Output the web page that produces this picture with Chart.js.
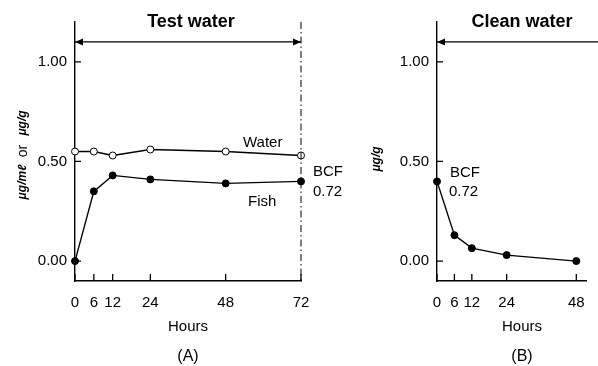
<!DOCTYPE html>
<html>
<head>
<meta charset="utf-8">
<script src="https://cdn.jsdelivr.net/npm/chart.js@4.4.0/dist/chart.umd.min.js"></script>
<style>
  html, body { margin: 0; padding: 0; background: #fff; overflow: hidden; }
  .wrap { position: absolute; top: 0; height: 366px; }
</style>
</head>
<body>
<div class="wrap" style="left:0;width:360px"><canvas id="chartA"></canvas></div>
<div class="wrap" style="left:360px;width:238px"><canvas id="chartB"></canvas></div>
<script>
// Panel A: uptake in test water
const hoursA = [0, 6, 12, 24, 48, 72];
const waterA = [0.55, 0.55, 0.53, 0.56, 0.55, 0.53];
const fishA = [0.00, 0.35, 0.43, 0.41, 0.39, 0.40];

// Panel B: depuration in clean water
const hoursB = [0, 6, 12, 24, 48];
const fishB = [0.40, 0.13, 0.065, 0.03, 0.00];

const yTicks = [0, 0.5, 1.0];
const xTicksA = [0, 6, 12, 24, 48, 72];
const xTicksB = [0, 6, 12, 24, 48];

const FONT = "'Liberation Sans', Arial, sans-serif";
Chart.defaults.font.family = FONT;
Chart.defaults.color = "#000";

const toXY = (xs, ys) => xs.map((x, i) => ({ x: x, y: ys[i] }));

const lineStyle = (fill) => ({
  borderColor: "#000",
  borderWidth: 1.4,
  pointRadius: 3.5,
  pointBorderWidth: 1,
  pointBorderColor: "#000",
  pointBackgroundColor: fill,
  clip: false,
  tension: 0,
});

// draws inward tick marks, arrows, labels
const decorPlugin = {
  id: "decor",
  afterDraw(chart, args, opts) {
    const ctx = chart.ctx;
    const x = chart.scales.x, y = chart.scales.y;
    const a = chart.chartArea;
    ctx.save();
    ctx.strokeStyle = "#000";
    ctx.fillStyle = "#000";
    ctx.lineWidth = 1.3;
    // inward ticks
    ctx.beginPath();
    opts.yTicks.forEach((v) => {
      const py = y.getPixelForValue(v);
      ctx.moveTo(a.left, py); ctx.lineTo(a.left + 6, py);
    });
    opts.xTicks.forEach((v) => {
      const px = x.getPixelForValue(v);
      ctx.moveTo(px, a.bottom); ctx.lineTo(px, a.bottom - 7);
    });
    ctx.stroke();

    // arrow line
    const ay = y.getPixelForValue(1.1);
    const ax1 = a.left, ax2 = opts.rightDash ? a.right : chart.width + 5;
    ctx.beginPath();
    ctx.moveTo(ax1, ay); ctx.lineTo(ax2, ay);
    ctx.stroke();
    const head = (px, dir) => {
      ctx.beginPath();
      ctx.moveTo(px, ay);
      ctx.lineTo(px + dir * 8, ay - 3.5);
      ctx.lineTo(px + dir * 8, ay + 3.5);
      ctx.closePath();
      ctx.fill();
    };
    head(ax1, 1);
    if (opts.rightDash) head(ax2, -1);

    // dash-dot vertical line
    if (opts.rightDash) {
      ctx.beginPath();
      ctx.setLineDash([7, 3, 1.5, 3]);
      ctx.lineWidth = 1;
      ctx.moveTo(a.right, a.top); ctx.lineTo(a.right, a.bottom);
      ctx.stroke();
      ctx.setLineDash([]);
    }

    // title
    ctx.textAlign = "center";
    ctx.textBaseline = "alphabetic";
    ctx.font = "bold 18px " + FONT;
    ctx.fillText(opts.title, opts.titleX, 27);

    // x label and panel letter
    ctx.font = "15px " + FONT;
    ctx.textBaseline = "middle";
    ctx.fillText("Hours", opts.hoursX, 327);
    ctx.font = "16px " + FONT;
    ctx.fillText(opts.panel, opts.hoursX, 357);

    // annotations
    ctx.textAlign = "left";
    ctx.font = "15px " + FONT;
    opts.notes.forEach((n) => ctx.fillText(n.text, n.x, n.y));

    // rotated y title
    ctx.translate(opts.yTitle.x, opts.yTitle.y);
    ctx.rotate(-Math.PI / 2);
    ctx.textAlign = "center";
    opts.yTitle.parts.forEach((p) => {
      ctx.font = (p.italic ? "italic bold 12px " : "14px ") + FONT;
      ctx.fillText(p.text, p.dx, 0);
    });
    ctx.restore();
  },
};

const makeOptions = (xMax, xTicks, pad, decor) => ({
  responsive: true,
  maintainAspectRatio: false,
  animation: false,
  layout: { padding: pad },
  plugins: { legend: { display: false }, tooltip: { enabled: false }, decor: decor },
  scales: {
    x: {
      type: "linear",
      min: 0,
      max: xMax,
      afterBuildTicks: (s) => { s.ticks = xTicks.map((v) => ({ value: v })); },
      afterFit: (s) => { s.height = 30; },
      grid: { drawOnChartArea: false, drawTicks: false },
      border: { color: "#000", width: 1.4 },
      ticks: { autoSkip: false, maxRotation: 0, padding: 13, font: { size: 15 }, color: "#000" },
    },
    y: {
      min: -0.1,
      max: 1.2,
      afterBuildTicks: (s) => { s.ticks = yTicks.map((v) => ({ value: v })); },
      afterFit: (s) => { s.width = 45; },
      grid: { drawOnChartArea: false, drawTicks: false },
      border: { color: "#000", width: 1.4 },
      ticks: { padding: 8, font: { size: 15 }, color: "#000", callback: (v) => v.toFixed(2) },
    },
  },
});

new Chart(document.getElementById("chartA"), {
  type: "line",
  data: {
    datasets: [
      Object.assign({ label: "Water", data: toXY(hoursA, waterA) }, lineStyle("#fff")),
      Object.assign({ label: "Fish", data: toXY(hoursA, fishA) }, lineStyle("#000")),
    ],
  },
  options: makeOptions(72, xTicksA, { left: 30, right: 59, top: 22, bottom: 55 }, {
    yTicks: yTicks, xTicks: xTicksA, rightDash: true,
    title: "Test water", titleX: 191, hoursX: 188, panel: "(A)",
    notes: [
      { text: "Water", x: 243, y: 143 },
      { text: "Fish", x: 248, y: 202 },
      { text: "BCF", x: 313, y: 172 },
      { text: "0.72", x: 313, y: 192 },
    ],
    yTitle: { x: 23, y: 150, parts: [
      { text: "\u03bcg/m\u2113", italic: true, dx: -32 },
      { text: "or", italic: false, dx: -1 },
      { text: "\u03bcg/g", italic: true, dx: 27 },
    ] },
  }),
  plugins: [decorPlugin],
});

new Chart(document.getElementById("chartB"), {
  type: "line",
  data: {
    datasets: [
      Object.assign({ label: "Fish", data: toXY(hoursB, fishB) }, lineStyle("#000")),
    ],
  },
  options: makeOptions(51.5, xTicksB, { left: 32, right: 0, top: 22, bottom: 55 }, {
    yTicks: yTicks, xTicks: xTicksB, rightDash: false,
    title: "Clean water", titleX: 162, hoursX: 162, panel: "(B)",
    notes: [
      { text: "BCF", x: 90, y: 173 },
      { text: "0.72", x: 89, y: 192 },
    ],
    yTitle: { x: 17, y: 159, parts: [
      { text: "\u03bcg/g", italic: true, dx: 0 },
    ] },
  }),
  plugins: [decorPlugin],
});
</script>
</body>
</html>
